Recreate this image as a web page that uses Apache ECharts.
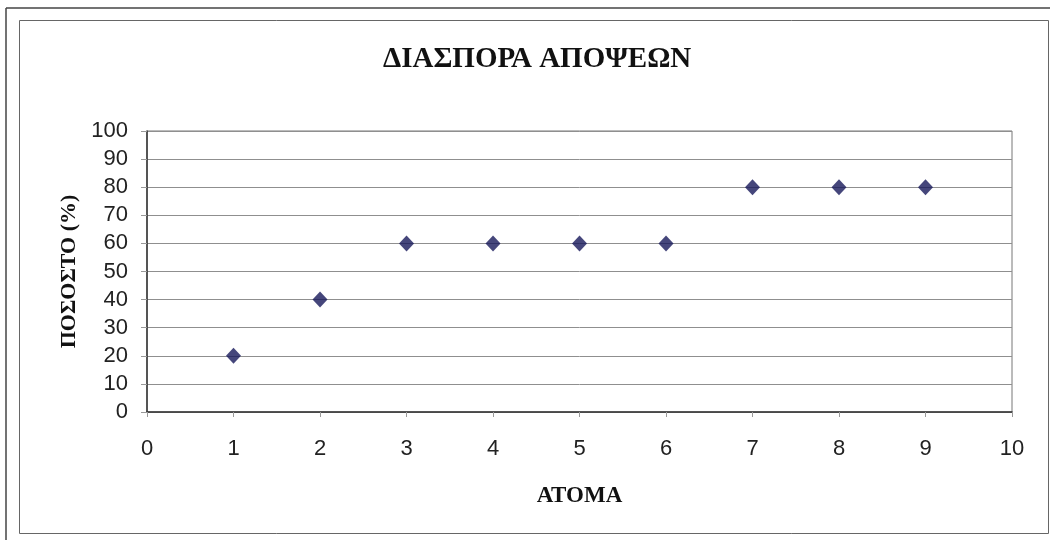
<!DOCTYPE html>
<html>
<head>
<meta charset="utf-8">
<script src="https://cdn.jsdelivr.net/npm/echarts@6/dist/echarts.min.js"></script>
<style>
  html, body { margin: 0; padding: 0; background: #ffffff; }
  #chart { width: 1050px; height: 540px; }
</style>
</head>
<body>
<div id="chart"></div>
<script>
// Number of people (x) and percentage of agreement (y)
const people = [1, 2, 3, 4, 5, 6, 7, 8, 9];
const percent = [20, 40, 60, 60, 60, 60, 80, 80, 80];

const titleText = 'ΔΙΑΣΠΟΡΑ ΑΠΟΨΕΩΝ';
const xName = 'ΑΤΟΜΑ';
const yName = 'ΠΟΣΟΣΤΟ (%)';

const points = people.map((p, i) => [p, percent[i]]);

const serif = '"Liberation Serif", "DejaVu Serif", serif';
const sans = '"Liberation Sans", Arial, sans-serif';

const chart = echarts.init(document.getElementById('chart'), null, { renderer: 'canvas' });

chart.setOption({
  backgroundColor: '#ffffff',
  animation: false,
  title: {
    text: titleText,
    left: 378,
    top: 40,
    textStyle: { fontFamily: serif, fontWeight: 'bold', fontSize: 29, color: '#111' }
  },
  graphic: [
    // outer page frame (top and left edges)
    { type: 'line', shape: { x1: 6, y1: 8, x2: 1050, y2: 8 }, style: { stroke: '#444', lineWidth: 1.5 } },
    { type: 'line', shape: { x1: 6, y1: 8, x2: 6, y2: 540 }, style: { stroke: '#444', lineWidth: 1.5 } },
    // chart area frame
    { type: 'rect', shape: { x: 19.5, y: 20.5, width: 1029, height: 513 }, style: { fill: 'none', stroke: '#666', lineWidth: 1 } }
  ],
  grid: {
    left: 147, right: 38, top: 131, bottom: 128,
    show: true, borderColor: '#777', borderWidth: 1, backgroundColor: 'transparent'
  },
  xAxis: {
    type: 'value',
    min: 0, max: 10, interval: 1,
    name: xName,
    nameLocation: 'middle',
    nameGap: 73,
    nameTextStyle: { fontFamily: serif, fontWeight: 'bold', fontSize: 23, color: '#111' },
    axisLine: { show: true, onZero: false, lineStyle: { color: '#333', width: 1.5 } },
    axisTick: { show: true, length: 5, lineStyle: { color: '#999' } },
    axisLabel: { fontFamily: sans, fontSize: 22, color: '#222', margin: 26 },
    splitLine: { show: false }
  },
  yAxis: {
    type: 'value',
    min: 0, max: 100, interval: 10,
    name: yName,
    nameLocation: 'middle',
    nameRotate: 90,
    nameGap: 61,
    nameTextStyle: { fontFamily: serif, fontWeight: 'bold', fontSize: 22, color: '#111' },
    axisLine: { show: true, onZero: false, lineStyle: { color: '#333', width: 1.5 } },
    axisTick: { show: true, length: 6, lineStyle: { color: '#999' } },
    axisLabel: { fontFamily: sans, fontSize: 22, color: '#222', margin: 19 },
    splitLine: { show: true, lineStyle: { color: '#8f8f8f', width: 1 } }
  },
  series: [{
    type: 'scatter',
    data: points,
    symbol: 'diamond',
    symbolSize: [15, 16],
    itemStyle: { color: '#16185a' }
  }]
});
</script>
</body>
</html>
